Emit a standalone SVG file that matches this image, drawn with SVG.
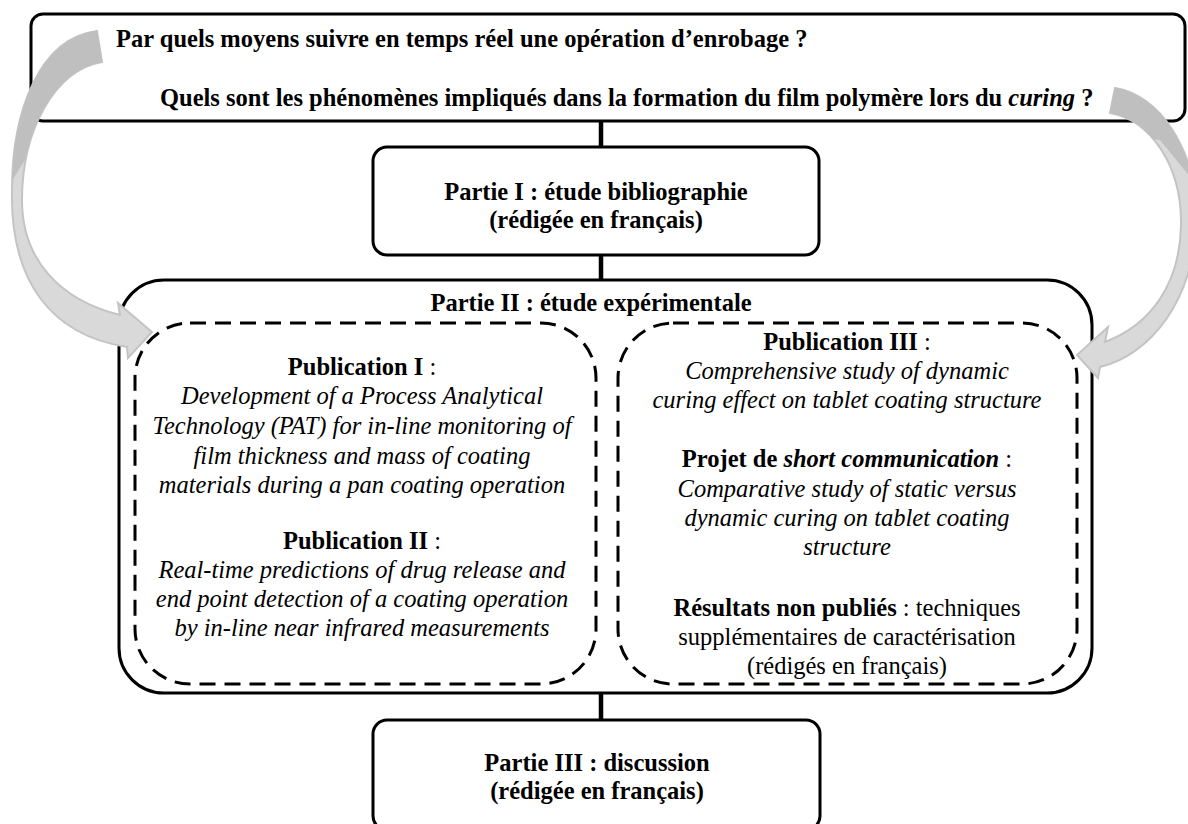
<svg xmlns="http://www.w3.org/2000/svg" width="1188" height="824" viewBox="0 0 1188 824">
  <defs>
    <style>
      .box { fill: #ffffff; stroke: #000000; stroke-width: 3; }
      .dash { fill: none; stroke: #000000; stroke-width: 3; stroke-dasharray: 16 9; }
      .conn { stroke: #000000; stroke-width: 4.5; fill: none; }
      .t { font-family: "Liberation Serif", "Times New Roman", serif; font-size: 24.5px; fill: #000000; }
      .b { font-weight: bold; }
      .i { font-style: italic; }
      .mid { text-anchor: middle; }
      .arrLight { fill: #d9d9d9; stroke: #c4c4c4; stroke-width: 2; stroke-linejoin: miter; }
      .arrDark { fill: #bfbfbf; }
    </style>
    <clipPath id="clipLeftDark">
      <polygon points="0,0 140,0 140,75 50,120 0,200"/>
    </clipPath>
    <clipPath id="clipRightDark">
      <polygon points="1040,0 1250,0 1250,250 1160,140 1040,125"/>
    </clipPath>
    <path id="leftArrowShape" d="M 97,31 C 40,38 12,110 12,190 C 10,280 50,335 127,347 L 128,358 L 152,332 L 118,303 L 120,315 C 60,300 22,260 22,200 C 22,130 55,70 102,62 Z"/>
    <path id="rightArrowShape" d="M 1115,88 C 1160,95 1196,150 1196,215 C 1196,300 1150,355 1100,367 L 1098,378 L 1077,355 L 1108,327 L 1105,342 C 1150,325 1180,285 1181,225 C 1182,165 1150,120 1110,113 Z"/>
  </defs>

  <rect x="0" y="0" width="1188" height="824" fill="#ffffff"/>

  <g id="connectors">
    <line class="conn" x1="601" y1="121" x2="601" y2="147"/>
    <line class="conn" x1="601" y1="255" x2="601" y2="280"/>
    <line class="conn" x1="601" y1="693" x2="601" y2="720"/>
  </g>

  <g id="questions">
    <rect class="box" x="31" y="14" width="1154" height="107" rx="12"/>
    <text class="t b" x="116" y="47">Par quels moyens suivre en temps réel une opération d’enrobage ?</text>
    <text class="t b" x="160" y="106">Quels sont les phénomènes impliqués dans la formation du film polymère lors du <tspan class="i">curing</tspan> ?</text>
  </g>

  <g id="partie1">
    <rect class="box" x="373" y="147" width="446" height="108" rx="14"/>
    <text class="t b mid" x="596" y="200">Partie I : étude bibliographie</text>
    <text class="t b mid" x="596" y="228">(rédigée en français)</text>
  </g>

  <g id="partie2">
    <rect class="box" x="119" y="280" width="973" height="413" rx="45"/>
    <text class="t b mid" x="591" y="311">Partie II : étude expérimentale</text>
  </g>

  <g id="publications12">
    <rect class="dash" x="135" y="323" width="461" height="361" rx="55"/>
    <text class="t mid" x="362" y="375"><tspan class="b">Publication I</tspan> :</text>
    <text class="t i mid" x="362" y="404">Development of a Process Analytical</text>
    <text class="t i mid" x="362" y="434">Technology (PAT) for in-line monitoring of</text>
    <text class="t i mid" x="362" y="464">film thickness and mass of coating</text>
    <text class="t i mid" x="362" y="493">materials during a pan coating operation</text>
    <text class="t mid" x="362" y="549"><tspan class="b">Publication II</tspan> :</text>
    <text class="t i mid" x="362" y="578">Real-time predictions of drug release and</text>
    <text class="t i mid" x="362" y="607">end point detection of a coating operation</text>
    <text class="t i mid" x="362" y="636">by in-line near infrared measurements</text>
  </g>

  <g id="publication3">
    <rect class="dash" x="618" y="323" width="459" height="361" rx="55"/>
    <text class="t mid" x="847" y="350"><tspan class="b">Publication III</tspan> :</text>
    <text class="t i mid" x="847" y="379">Comprehensive study of dynamic</text>
    <text class="t i mid" x="847" y="408">curing effect on tablet coating structure</text>
    <text class="t mid" x="847" y="467"><tspan class="b">Projet de </tspan><tspan class="b i">short communication</tspan> :</text>
    <text class="t i mid" x="847" y="497">Comparative study of static versus</text>
    <text class="t i mid" x="847" y="526">dynamic curing on tablet coating</text>
    <text class="t i mid" x="847" y="555">structure</text>
    <text class="t mid" x="847" y="616"><tspan class="b">Résultats non publiés</tspan> : techniques</text>
    <text class="t mid" x="847" y="645">supplémentaires de caractérisation</text>
    <text class="t mid" x="847" y="674">(rédigés en français)</text>
  </g>

  <g id="partie3">
    <rect class="box" x="373" y="720" width="447" height="110" rx="14"/>
    <text class="t b mid" x="597" y="771">Partie III : discussion</text>
    <text class="t b mid" x="597" y="799">(rédigée en français)</text>
  </g>

  <g id="arrow-left">
    <use href="#leftArrowShape" class="arrLight"/>
    <use href="#leftArrowShape" class="arrDark" clip-path="url(#clipLeftDark)"/>
  </g>

  <g id="arrow-right">
    <use href="#rightArrowShape" class="arrLight"/>
    <use href="#rightArrowShape" class="arrDark" clip-path="url(#clipRightDark)"/>
  </g>
</svg>
